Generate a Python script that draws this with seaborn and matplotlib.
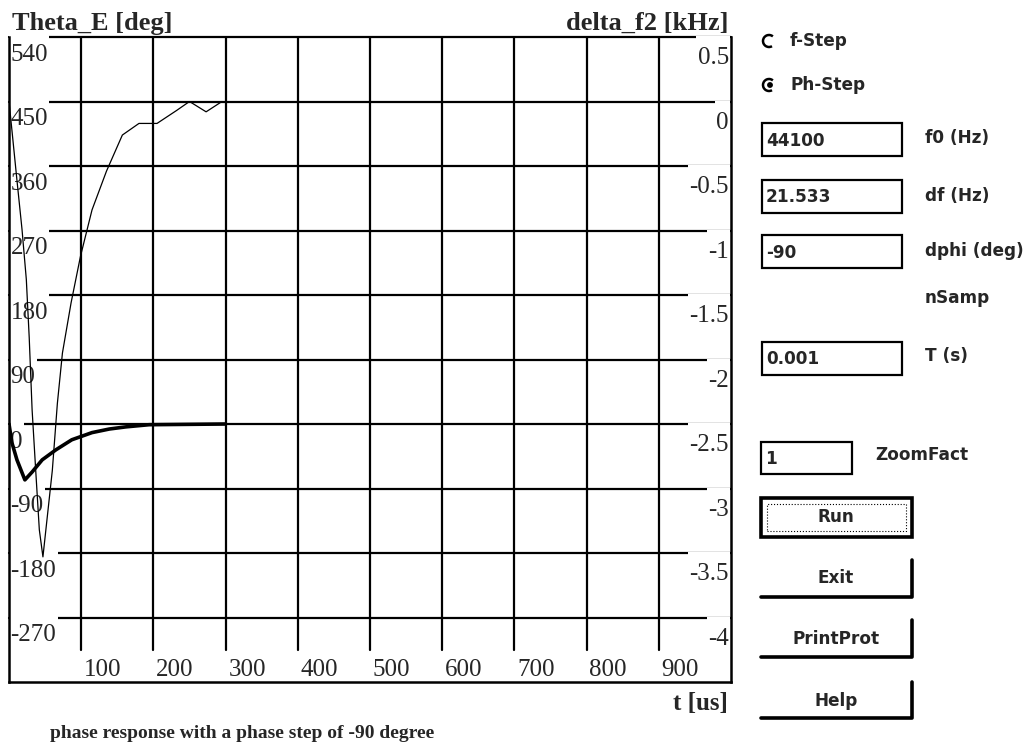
"""
Phase response of a PLL after a -90 degree phase step
(screen copy of the simulation window: plot + control panel)
"""
import matplotlib
matplotlib.use('Agg')
import matplotlib.pyplot as plt
import matplotlib.patches as patches
from matplotlib.lines import Line2D
from matplotlib.path import Path
import seaborn as sns

sns.set_style("white")
plt.rcParams['font.family'] = ['Liberation Serif', 'DejaVu Serif']

# --- data ---
# Theta_E [deg] (thick line)
t_theta = [0, 4, 11, 22, 32, 46, 65, 87, 115, 139, 162, 194, 300]
theta_e = [0, -26, -50, -78, -67, -50, -36, -22, -12, -7, -4, -1, 0]

# delta_f2 [kHz] (thin line)
t_f2 = [0, 4, 11, 18, 24, 28, 32, 37, 42, 47, 60, 67, 74, 86, 99, 115, 135,
        157, 180, 205, 232, 250, 273, 295]
delta_f2 = [0.0, -0.22, -0.61, -0.99, -1.38, -1.83, -2.39, -2.86, -3.32, -3.53,
            -2.86, -2.34, -1.95, -1.56, -1.20, -0.84, -0.54, -0.26, -0.17, -0.17,
            -0.07, 0.0, -0.08, 0.0]

theta_ticks = [540, 450, 360, 270, 180, 90, 0, -90, -180, -270]
f2_ticks = [0.5, 0, -0.5, -1, -1.5, -2, -2.5, -3, -3.5, -4]
f2_labels = ['0.5', '0', '-0.5', '-1', '-1.5', '-2', '-2.5', '-3', '-3.5', '-4']
t_ticks = [100, 200, 300, 400, 500, 600, 700, 800, 900]

# control panel contents
radio_labels = ['f-Step', 'Ph-Step']
field_values = ['44100', '21.533', '-90', '0.001', '1']
field_names = ['f0 (Hz)', 'df (Hz)', 'dphi (deg)', 'T (s)', 'ZoomFact']
button_labels = ['Run', 'Exit', 'PrintProt', 'Help']

W, H = 1030, 755
fig = plt.figure(figsize=(W / 100, H / 100), dpi=100)
fig.patch.set_facecolor('white')


def fx(x):
    return x / W


def fy(y):
    return 1 - y / H


def label_box(x0, y0, width, height, mutation_size):
    """white box behind tick labels, tall on top so it hides the grid line"""
    px = 0.06 * mutation_size
    x1 = x0 + width + px
    x0 = x0 - px
    y1 = y0 + height + 0.45 * mutation_size
    y0 = y0 - 0.05 * mutation_size
    return Path([(x0, y0), (x1, y0), (x1, y1), (x0, y1), (x0, y0)], closed=True)


ax = fig.add_axes([fx(9), fy(682), 722 / W, 645 / H])
ax.set_xlim(0, 1000)
ax.set_ylim(-360, 540)
ax.set_xticks([])
ax.set_yticks([])
ax.set_facecolor('white')
for side in ['left', 'right', 'bottom']:
    ax.spines[side].set_visible(True)
    ax.spines[side].set_color('black')
    ax.spines[side].set_linewidth(1.8)
ax.spines['top'].set_visible(False)

ax2 = ax.twinx()
ax2.set_ylim(-4.5, 0.5)
ax2.set_yticks([])
for side in ax2.spines:
    ax2.spines[side].set_visible(False)

# grid
for v in theta_ticks:
    ax.axhline(v, color='black', lw=1.6, zorder=1, clip_on=False)
for t in t_ticks:
    ax.axvline(t, ymin=0.05, ymax=1, color='black', lw=1.6, zorder=1)

box = dict(boxstyle=label_box, fc='white', ec='none')
for v in theta_ticks:
    ax.annotate(str(v), xy=(0, v), xycoords=('axes fraction', 'data'),
                xytext=(1, -5), textcoords='offset points', ha='left', va='top',
                fontsize=18, bbox=box, zorder=2)
for v, lab in zip(f2_ticks, f2_labels):
    ax2.annotate(lab, xy=(1, v), xycoords=('axes fraction', 'data'),
                 xytext=(-1.5, -7.5), textcoords='offset points', ha='right', va='top',
                 fontsize=18, bbox=box, zorder=2)
for t in t_ticks:
    ax.annotate(str(t), xy=(t, 0), xycoords=('data', 'axes fraction'),
                xytext=(2, 0.5), textcoords='offset points', ha='left', va='bottom',
                fontsize=18, zorder=2)

sns.lineplot(x=t_theta, y=theta_e, ax=ax, color='black', lw=2.6, zorder=3)
sns.lineplot(x=t_f2, y=delta_f2, ax=ax2, color='black', lw=0.9, zorder=3)

# headers and caption
fig.text(fx(12), fy(30), 'Theta_E [deg]', fontsize=19, fontweight='bold', va='baseline')
fig.text(fx(729), fy(30), 'delta_f2 [kHz]', fontsize=19, fontweight='bold',
         ha='right', va='baseline')
fig.text(fx(728), fy(710), 't [us]', fontsize=18, fontweight='bold',
         ha='right', va='baseline')
fig.text(fx(50), fy(738), 'phase response with a phase step of -90 degree',
         fontsize=14, fontweight='bold', va='baseline')

# control panel
gui = dict(fontsize=12.2, fontweight='bold', family='DejaVu Sans', va='center')
radio_y = [41, 85]
for lab, y in zip(radio_labels, radio_y):
    fig.text(fx(790), fy(y), lab, **gui)
    fig.add_artist(patches.Arc((769 / 100, (H - y) / 100), 0.12, 0.12,
                               theta1=50, theta2=300, lw=1.8, color='black',
                               transform=fig.dpi_scale_trans))
fig.add_artist(patches.Circle((770 / 100, (H - 85) / 100), 0.022, color='black',
                              transform=fig.dpi_scale_trans))

field_boxes = [(762, 902, 123, 156), (762, 902, 180, 213), (762, 902, 235, 268),
               (762, 902, 342, 375), (761, 852, 442, 474)]
name_pos = [(925, 138), (925, 196), (925, 251), (925, 356), (875, 455)]
for (x0, x1, y0, y1), val, name, (nx, ny) in zip(field_boxes, field_values,
                                                   field_names, name_pos):
    fig.add_artist(patches.Rectangle((fx(x0), fy(y1)), (x1 - x0) / W, (y1 - y0) / H,
                                     transform=fig.transFigure, fc='white',
                                     ec='black', lw=1.6))
    fig.text(fx(x0 + 4), fy((y0 + y1) / 2 + 1), val, **gui)
    fig.text(fx(nx), fy(ny), name, **gui)
fig.text(fx(925), fy(298), 'nSamp', **gui)

# Run button (default button: black frame + focus rectangle)
fig.add_artist(patches.Rectangle((fx(761), fy(537)), 151 / W, 39 / H,
                                 transform=fig.transFigure, fc='white',
                                 ec='black', lw=2.6))
fig.add_artist(patches.Rectangle((fx(767), fy(531)), 139 / W, 27 / H,
                                 transform=fig.transFigure, fill=False,
                                 ec='black', lw=0.8, ls=':'))
button_text_y = [517, 578, 639, 701]
button_shadow = [None, (560, 597), (620, 657), (682, 718)]
for lab, ty, sh in zip(button_labels, button_text_y, button_shadow):
    fig.text(fx(836), fy(ty), lab, ha='center', **gui)
    if sh is not None:
        top, bot = sh
        fig.add_artist(Line2D([fx(761), fx(912), fx(912)], [fy(bot), fy(bot), fy(top)],
                              transform=fig.transFigure, color='black', lw=2.6))

fig.savefig('out.png', dpi=100, facecolor='white')
